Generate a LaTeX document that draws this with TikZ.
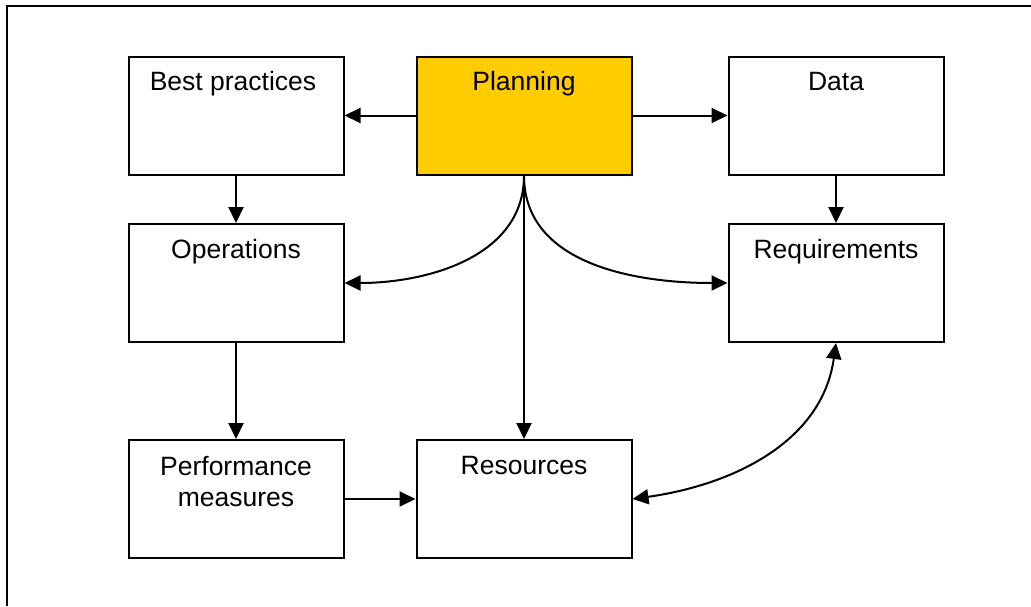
\documentclass[tikz,border=0pt]{standalone}
\usepackage{fontspec}
\setmainfont{Liberation Sans}
\usetikzlibrary{arrows.meta}
\definecolor{planfill}{HTML}{FFCC00}
\tikzset{
  box/.style={draw=black, line width=2pt, fill=white, minimum width=215pt, minimum height=118pt, inner sep=0pt},
  title/.style={anchor=base, align=center, inner sep=0pt, font=\fontsize{26.5}{31}\selectfont},
  link/.style={line width=2pt, -{Triangle[length=16pt,width=15pt]}},
  dlink/.style={line width=2pt, {Triangle[length=16pt,width=15pt]}-{Triangle[length=16pt,width=15pt]}}
}
\begin{document}
\begin{tikzpicture}[x=1pt, y=-1pt]
\useasboundingbox (0,0) rectangle (1031,606);
% page frame (top and left edges)
\draw[line width=2pt] (7,606) -- (7,6) -- (1031,6);

% boxes
\node[box] (bp)   at (236,115.5) {};
\node[box, fill=planfill] (plan) at (524,115.5) {};
\node[box] (data) at (836,115.5) {};
\node[box] (ops)  at (236,283) {};
\node[box] (req)  at (836,283) {};
\node[box] (perf) at (236,499) {};
\node[box] (res)  at (524,499) {};

% titles (baseline of the last line placed below the box top)
\node[title] (tbp)   at ([xshift=-3pt,yshift=-35pt]bp.north)   {Best practices};
\node[title] (tplan) at ([yshift=-35pt]plan.north) {Planning};
\node[title] (tdata) at ([yshift=-35pt]data.north) {Data};
\node[title] (tops)  at ([yshift=-35pt]ops.north)  {Operations};
\node[title] (treq)  at ([yshift=-35pt]req.north)  {Requirements};
\node[title] (tperf) at ([yshift=-67pt]perf.north) {Performance\\measures};
\node[title] (tres)  at ([yshift=-35pt]res.north)  {Resources};

% connectors
\draw[link] (plan.west) -- (bp.east);
\draw[link] (plan.east) -- (data.west);
\draw[link] (bp.south) -- (ops.north);
\draw[link] (data.south) -- (req.north);
\draw[link] (ops.south) -- (perf.north);
\draw[link] (perf.east) -- (res.west);
\draw[link] (plan.south) -- (res.north);
\draw[link] (plan.south) to[out=-90, in=0] (ops.east);
\draw[link] (plan.south) to[out=-90, in=180] (req.west);
\draw[dlink] (req.south) to[out=-98, in=8] (res.east);
\end{tikzpicture}
\end{document}
